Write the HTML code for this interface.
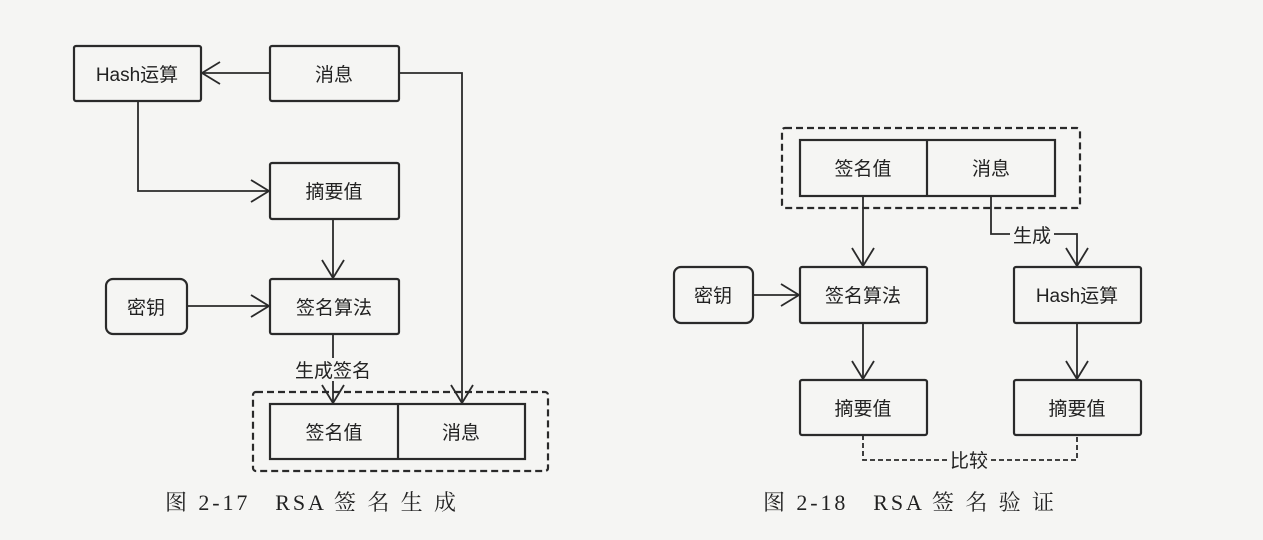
<!DOCTYPE html>
<html><head><meta charset="utf-8"><style>
html,body{margin:0;padding:0;background:#f5f5f3;}
svg{display:block}
text{font-family:"Liberation Sans","Noto Sans CJK SC",sans-serif;fill:#222;}
.cap{font-family:"Liberation Serif","Noto Serif CJK SC",serif;font-size:22px;fill:#222;}
</style></head><body>
<svg width="1263" height="540" viewBox="0 0 1263 540" xmlns="http://www.w3.org/2000/svg">
<g fill="none" stroke="#2a2a2a" stroke-width="2.2">
<rect x="74" y="46" width="127" height="55" rx="2"/>
<rect x="270" y="46" width="129" height="55" rx="2"/>
<rect x="270" y="163" width="129" height="56" rx="2"/>
<rect x="270" y="279" width="129" height="55" rx="2"/>
<rect x="106" y="279" width="81" height="55" rx="7"/>
<rect x="270" y="404" width="255" height="55"/>
<line x1="398" y1="404" x2="398" y2="459"/>
<rect x="253" y="392" width="295" height="79" rx="3" stroke-dasharray="7,4"/>
<line x1="270" y1="73" x2="202" y2="73" stroke-width="1.8"/>
<polyline points="220,62 202,73 220,84" stroke-width="1.8"/>
<polyline points="138,101 138,191 269,191" stroke-width="1.8"/>
<polyline points="251,180 269,191 251,202" stroke-width="1.8"/>
<line x1="333" y1="219" x2="333" y2="278" stroke-width="1.8"/>
<polyline points="322,260 333,278 344,260" stroke-width="1.8"/>
<line x1="187" y1="306" x2="269" y2="306" stroke-width="1.8"/>
<polyline points="251,295 269,306 251,317" stroke-width="1.8"/>
<line x1="333" y1="334" x2="333" y2="358" stroke-width="1.8"/>
<line x1="333" y1="381" x2="333" y2="403" stroke-width="1.8"/>
<polyline points="322,385 333,403 344,385" stroke-width="1.8"/>
<polyline points="399,73 462,73 462,403" stroke-width="1.8"/>
<polyline points="451,385 462,403 473,385" stroke-width="1.8"/>
<rect x="800" y="140" width="255" height="56"/>
<line x1="927" y1="140" x2="927" y2="196"/>
<rect x="782" y="128" width="298" height="80" rx="3" stroke-dasharray="7,4"/>
<rect x="800" y="267" width="127" height="56" rx="2"/>
<rect x="674" y="267" width="79" height="56" rx="7"/>
<rect x="1014" y="267" width="127" height="56" rx="2"/>
<rect x="800" y="380" width="127" height="55" rx="2"/>
<rect x="1014" y="380" width="127" height="55" rx="2"/>
<line x1="863" y1="196" x2="863" y2="266" stroke-width="1.8"/>
<polyline points="852,248 863,266 874,248" stroke-width="1.8"/>
<polyline points="991,196 991,234 1010,234" stroke-width="1.8"/>
<polyline points="1054,234 1077,234 1077,266" stroke-width="1.8"/>
<polyline points="1066,248 1077,266 1088,248" stroke-width="1.8"/>
<line x1="753" y1="295" x2="799" y2="295" stroke-width="1.8"/>
<polyline points="781,284 799,295 781,306" stroke-width="1.8"/>
<line x1="863" y1="323" x2="863" y2="379" stroke-width="1.8"/>
<polyline points="852,361 863,379 874,361" stroke-width="1.8"/>
<line x1="1077" y1="323" x2="1077" y2="379" stroke-width="1.8"/>
<polyline points="1066,361 1077,379 1088,361" stroke-width="1.8"/>
<polyline points="863,435 863,460 947,460" stroke-width="1.8" stroke-dasharray="5,3"/>
<polyline points="991,460 1077,460 1077,435" stroke-width="1.8" stroke-dasharray="5,3"/>
</g>
<g font-size="19" text-anchor="middle">
<text x="137" y="81">Hash运算</text>
<text x="334" y="81">消息</text>
<text x="334" y="198">摘要值</text>
<text x="334" y="314">签名算法</text>
<text x="146" y="314">密钥</text>
<text x="333" y="377">生成签名</text>
<text x="334" y="439">签名值</text>
<text x="461" y="439">消息</text>
<text x="863" y="175">签名值</text>
<text x="991" y="175">消息</text>
<text x="1032" y="242">生成</text>
<text x="863" y="302">签名算法</text>
<text x="713" y="302">密钥</text>
<text x="1077" y="302">Hash运算</text>
<text x="863" y="415">摘要值</text>
<text x="1077" y="415">摘要值</text>
<text x="969" y="467">比较</text>
</g>
<text class="cap" x="165" y="510" textLength="291" lengthAdjust="spacing">图 2-17　RSA 签 名 生 成</text>
<text class="cap" x="763" y="510" textLength="291" lengthAdjust="spacing">图 2-18　RSA 签 名 验 证</text>
</svg>
</body></html>
